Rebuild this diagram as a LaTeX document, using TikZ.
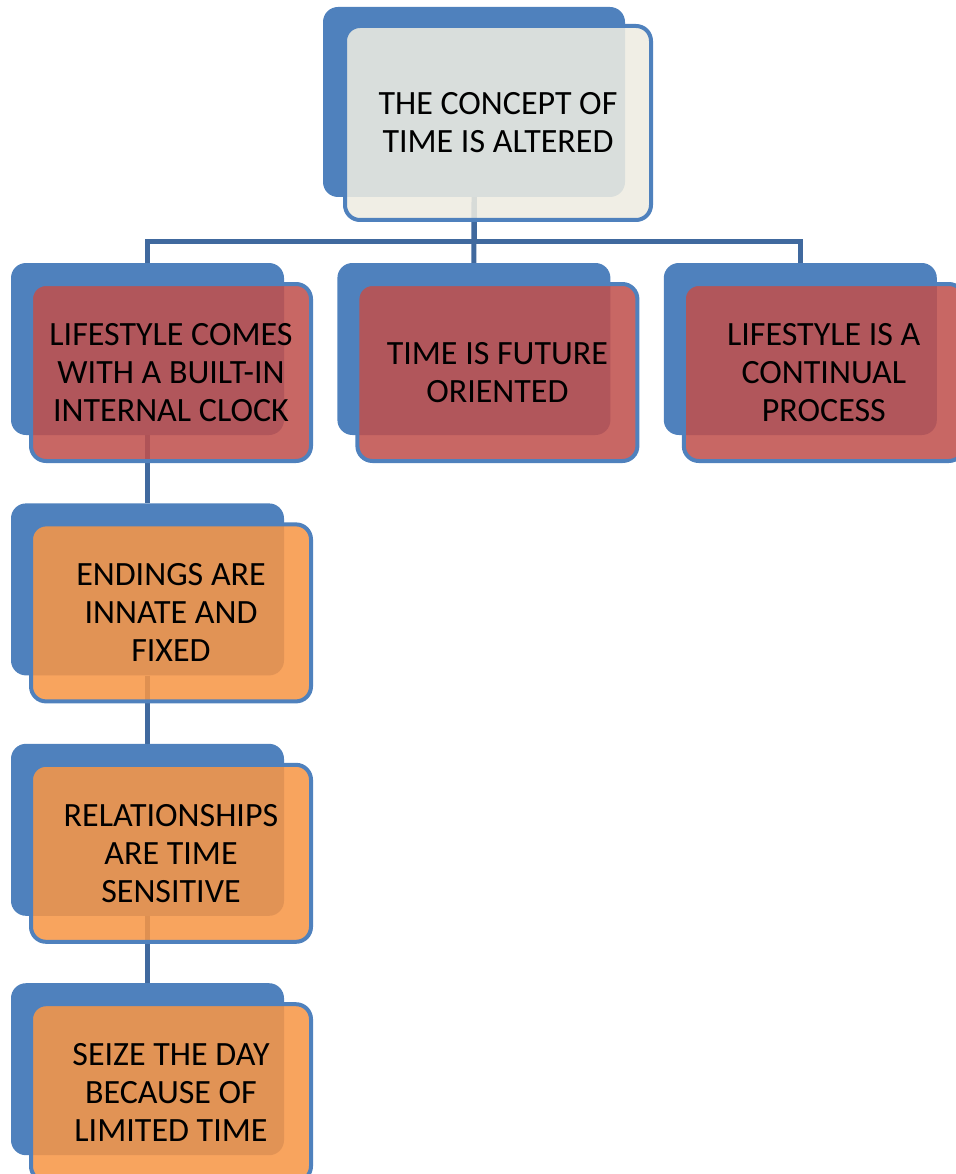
\documentclass[tikz,border=0pt]{standalone}
\usepackage{fontspec}
\setmainfont{Carlito}
\usetikzlibrary{positioning,backgrounds}
\definecolor{smblue}{RGB}{79,129,189}
\definecolor{smlink}{RGB}{64,105,158}
\definecolor{smred}{RGB}{192,80,77}
\definecolor{smorange}{RGB}{247,150,70}
\definecolor{smcream}{RGB}{238,236,225}
\tikzstyle{backbox} = [rectangle, rounded corners=15pt, fill=smblue, minimum width=273pt, minimum height=172pt]
\tikzstyle{frontbox} = [rectangle, rounded corners=15pt, draw=smblue, line width=4pt, fill opacity=0.87, text opacity=1, minimum width=280pt, minimum height=177pt, align=center, font=\fontsize{34}{38}\selectfont]
\tikzstyle{link} = [line width=5pt, color=smlink]

\begin{document}
\begin{tikzpicture}[x=1pt, y=-1pt]
\useasboundingbox (0,0) rectangle (955,1174);

% top box
\node[backbox, minimum width=302pt, minimum height=190pt] (conceptb) at (474,102) {};
\node[frontbox, fill=smcream, minimum width=306pt, minimum height=194pt] (concept) at ([shift={(24pt,-21pt)}]conceptb.center) {THE CONCEPT OF\\TIME IS ALTERED};

% second row
\node[backbox] (lifeb) at (147.5,349) {};
\node[backbox, right=53pt of lifeb] (futb) {};
\node[backbox, right=53pt of futb] (procb) {};
\node[frontbox, fill=smred] (life) at ([shift={(23.5pt,-23.5pt)}]lifeb.center) {LIFESTYLE COMES\\WITH A BUILT-IN\\INTERNAL CLOCK};
\node[frontbox, fill=smred] (fut) at ([shift={(23.5pt,-23.5pt)}]futb.center) {TIME IS FUTURE\\ORIENTED};
\node[frontbox, fill=smred] (proc) at ([shift={(23.5pt,-23.5pt)}]procb.center) {LIFESTYLE IS A\\CONTINUAL\\PROCESS};

% left column
\node[backbox, below=68pt of lifeb] (endb) {};
\node[backbox, below=68pt of endb] (relb) {};
\node[backbox, below=67pt of relb] (seizeb) {};
\node[frontbox, fill=smorange] (end) at ([shift={(23.5pt,-23.5pt)}]endb.center) {ENDINGS ARE\\INNATE AND\\FIXED};
\node[frontbox, fill=smorange] (rel) at ([shift={(23.5pt,-23.5pt)}]relb.center) {RELATIONSHIPS\\ARE TIME\\SENSITIVE};
\node[frontbox, fill=smorange] (seize) at ([shift={(23.5pt,-23.5pt)}]seizeb.center) {SEIZE THE DAY\\BECAUSE OF\\LIMITED TIME};

% connectors
\begin{scope}[on background layer]
\draw[link] (conceptb.south) -- ++(0,44) -| (lifeb.north);
\draw[link] (conceptb.south) -- ++(0,44) -| (procb.north);
\draw[link] (conceptb.south) -- (futb.north);
\draw[link] (lifeb.south) -- (endb.north);
\draw[link] (endb.south) -- (relb.north);
\draw[link] (relb.south) -- (seizeb.north);
\end{scope}
\end{tikzpicture}
\end{document}
